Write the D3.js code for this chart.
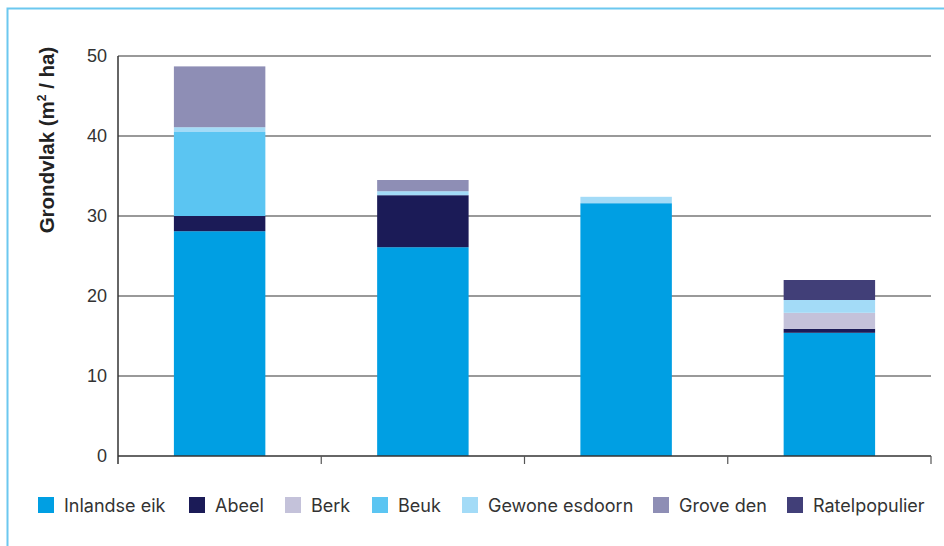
<!DOCTYPE html>
<html lang="nl">
<head>
  <meta charset="UTF-8">
  <title>Grondvlak per boomsoort</title>
  <style>
    body { margin: 0; background: #fff; }
    svg { display: block; font-family: Inter, "Noto Sans", sans-serif; }
  </style>
</head>
<body>
  <svg id="chart" width="944" height="546"></svg>

  <script src="https://d3js.org/d3.v7.min.js"></script>
  <script>
    // data (m2 / ha)
    var plots = ["A", "B", "C", "D"];
    var species = ["Inlandse eik", "Abeel", "Berk", "Beuk", "Gewone esdoorn", "Grove den", "Ratelpopulier"];
    var colors = ["#009fe3", "#1b1b57", "#c4c2da", "#5bc5f2", "#a3dbf7", "#8e8eb5", "#413f78"];
    var inlandseEik = [28.1, 26.1, 31.6, 15.4];
    var abeel = [1.9, 6.5, 0, 0.5];
    var berk = [0, 0, 0, 2.0];
    var beuk = [10.5, 0, 0, 0];
    var gewoneEsdoorn = [0.6, 0.5, 0.8, 1.6];
    var groveDen = [7.6, 1.4, 0, 0];
    var ratelpopulier = [0, 0, 0, 2.5];
    var yTicks = [0, 10, 20, 30, 40, 50];

    var series = [inlandseEik, abeel, berk, beuk, gewoneEsdoorn, groveDen, ratelpopulier];
    var rows = plots.map(function(p, i) {
      var r = { plot: p };
      species.forEach(function(s, j) { r[s] = series[j][i]; });
      return r;
    });

    var svg = d3.select("#chart");
    var margin = { left: 118, right: 13, top: 56, bottom: 90 };
    var width = 944, height = 546;

    // light blue frame
    svg.append("path")
      .attr("d", "M7.5,560 V8.5 H960")
      .attr("fill", "none")
      .attr("stroke", "#6cc8ef")
      .attr("stroke-width", 2);

    var x = d3.scaleBand()
      .domain(plots)
      .range([margin.left, width - margin.right])
      .paddingInner(0.55)
      .paddingOuter(0.275);

    var y = d3.scaleLinear()
      .domain([0, 50])
      .range([height - margin.bottom, margin.top]);

    // gridlines
    svg.append("g")
      .selectAll("line")
      .data(yTicks.slice(1))
      .join("line")
      .attr("x1", margin.left)
      .attr("x2", width - margin.right)
      .attr("y1", function(d) { return y(d); })
      .attr("y2", function(d) { return y(d); })
      .attr("stroke", "#777")
      .attr("stroke-width", 1.3);

    // y tick labels
    svg.append("g")
      .selectAll("text")
      .data(yTicks)
      .join("text")
      .attr("x", 107)
      .attr("y", function(d) { return y(d) + 6; })
      .attr("text-anchor", "end")
      .attr("font-family", "'Liberation Sans', Arial, sans-serif")
      .attr("font-size", 18)
      .attr("fill", "#333")
      .text(function(d) { return d; });

    // stacked bars
    var stack = d3.stack().keys(species)(rows);
    svg.append("g")
      .selectAll("g")
      .data(stack)
      .join("g")
      .attr("fill", function(d, i) { return colors[i]; })
      .selectAll("rect")
      .data(function(d) { return d; })
      .join("rect")
      .attr("x", function(d) { return x(d.data.plot); })
      .attr("width", x.bandwidth())
      .attr("y", function(d) { return y(d[1]); })
      .attr("height", function(d) { return y(d[0]) - y(d[1]); });

    // axes lines
    var x0 = margin.left, yb = y(0);
    svg.append("line")
      .attr("x1", x0).attr("x2", x0)
      .attr("y1", margin.top).attr("y2", yb + 8)
      .attr("stroke", "#333").attr("stroke-width", 1.5);
    svg.append("line")
      .attr("x1", x0).attr("x2", width - margin.right)
      .attr("y1", yb).attr("y2", yb)
      .attr("stroke", "#333").attr("stroke-width", 1.5);

    // category ticks at band edges
    var edges = plots.map(function(p) { return x(p) - x.step() * x.paddingInner() / 2; });
    edges.push(width - margin.right);
    svg.append("g")
      .selectAll("line")
      .data(edges.slice(1))
      .join("line")
      .attr("x1", function(d) { return d; })
      .attr("x2", function(d) { return d; })
      .attr("y1", yb)
      .attr("y2", yb + 8)
      .attr("stroke", "#555")
      .attr("stroke-width", 1.2);

    // y axis title
    var title = svg.append("text")
      .attr("transform", "translate(54,140) rotate(-90)")
      .attr("text-anchor", "middle")
      .attr("font-family", "'Liberation Sans', Arial, sans-serif")
      .attr("font-size", 20.5)
      .attr("font-weight", 700)
      .attr("fill", "#222");
    title.append("tspan").text("Grondvlak (m");
    title.append("tspan").attr("font-size", 12).attr("dy", -8).text("2");
    title.append("tspan").attr("dy", 8).text(" / ha)");

    // legend
    var legendX = [38, 189, 285, 372, 462, 653, 787];
    var legend = svg.append("g")
      .selectAll("g")
      .data(species)
      .join("g")
      .attr("transform", function(d, i) { return "translate(" + legendX[i] + ",497)"; });
    legend.append("rect")
      .attr("width", 16).attr("height", 16)
      .attr("fill", function(d, i) { return colors[i]; });
    legend.append("text")
      .attr("x", 26).attr("y", 15)
      .attr("font-size", 18)
      .attr("fill", "#333")
      .text(function(d) { return d; });
  </script>
</body>
</html>
